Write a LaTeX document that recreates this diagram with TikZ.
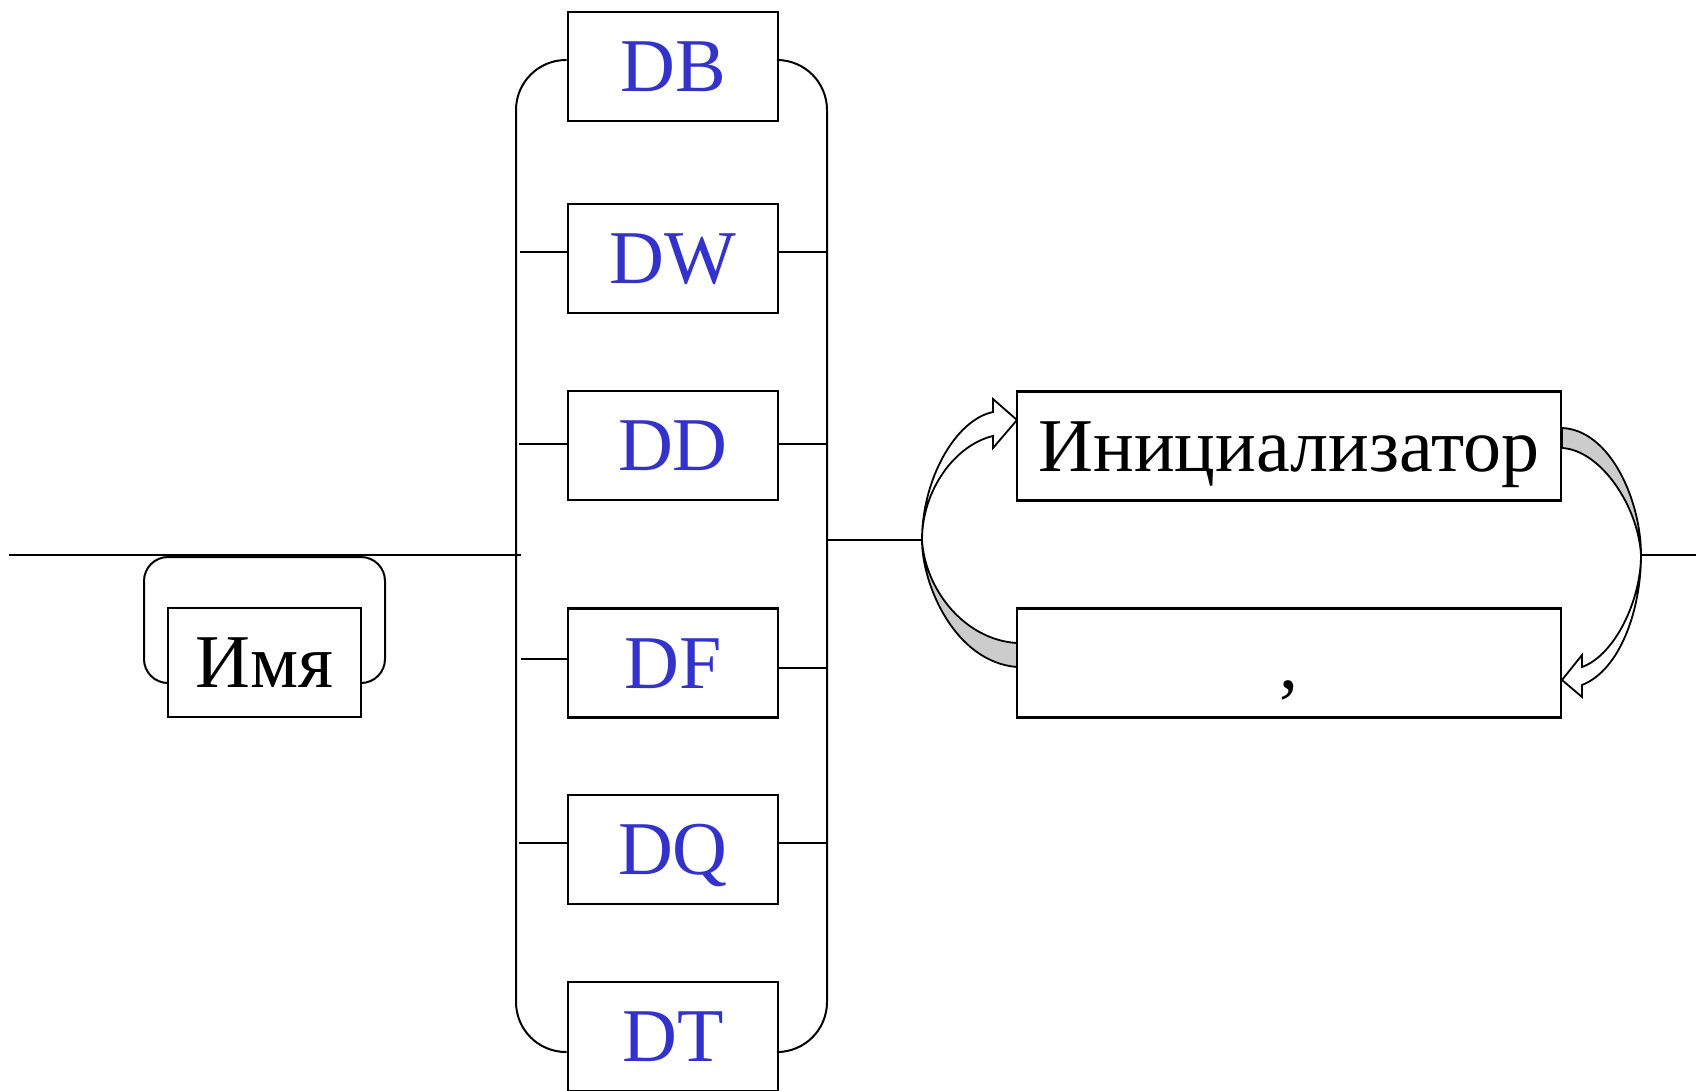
\documentclass[tikz,border=0pt]{standalone}
\usepackage{fontspec}
\setmainfont{Liberation Serif}
\definecolor{kw}{RGB}{51,51,204}
\definecolor{band}{RGB}{204,204,204}
\begin{document}
\begin{tikzpicture}[x=1pt,y=-1pt,
  ln/.style={line width=2pt},
  box/.style={draw, line width=2.6pt, inner sep=0pt, minimum height=109pt,
    text height=50pt, text depth=0pt, font=\fontsize{76}{80}\selectfont},
  kwbox/.style={box, minimum width=210pt, text=kw},
  arr/.style={line width=1.8pt, line join=miter}]
\useasboundingbox (0,0) rectangle (1696,1090);
\clip (0,0) rectangle (1696,1090);

% input line and optional name
\coordinate (start) at (9,555);
\coordinate (busL) at (521,555);
\draw[ln] (start) -- (busL);
\node[box, minimum width=193pt] (nm) at (264.5,662.5) {Имя};
\draw[ln, rounded corners=24pt] (nm.west |- 0,683) -- (144,683) -- (144,557) -- (385,557) -- (385,683) -- (nm.east |- 0,683);

% keyword boxes
\node[kwbox] (db) at (673,66.5) {DB};
\node[kwbox] (dw) at (673,258.5) {DW};
\node[kwbox] (dd) at (673,445.5) {DD};
\node[kwbox] (df) at (673,663) {DF};
\node[kwbox] (dq) at (673,849.5) {DQ};
\node[kwbox] (dt) at (673,1036.5) {DT};

% buses
\draw[ln, rounded corners=50pt] (db.west |- 0,60) -- (516,60) -- (516,1052) -- (dt.west |- 0,1052);
\draw[ln, rounded corners=50pt] (db.east |- 0,60) -- (827,60) -- (827,1052) -- (dt.east |- 0,1052);
\draw[ln] (520,252) -- (dw.west |- 0,252);
\draw[ln] (dw.east |- 0,252) -- (827,252);
\draw[ln] (519,444) -- (dd.west |- 0,444);
\draw[ln] (dd.east |- 0,444) -- (827,444);
\draw[ln] (521,659) -- (df.west |- 0,659);
\draw[ln] (df.east |- 0,668) -- (827,668);
\draw[ln] (519,843) -- (dq.west |- 0,843);
\draw[ln] (dq.east |- 0,843) -- (827,843);

% loop
\coordinate (lp) at (922,540);
\coordinate (rp) at (1641,555);
\coordinate (endp) at (1696,555);
\draw[ln] (827,540) -- (lp);
\draw[ln] (rp) -- (endp);

\draw[arr, fill=band] (lp) .. controls (922,585) and (955,662) .. (1017,667) -- (1017,643) .. controls (965,640) and (925,590) .. (lp) -- cycle;
\draw[arr, fill=white] (lp) .. controls (922,480) and (955,420) .. (993,412) -- (993,399) -- (1017,420) -- (993,448) -- (993,436) .. controls (955,445) and (922,490) .. (lp) -- cycle;
\draw[arr, fill=band] (1562,428) .. controls (1610,430) and (1641,500) .. (rp) .. controls (1638,505) and (1600,450) .. (1562,448) -- cycle;
\draw[arr, fill=white] (rp) .. controls (1641,610) and (1620,670) .. (1582,685) -- (1582,697) -- (1562,680) -- (1582,655) -- (1582,667) .. controls (1615,655) and (1641,600) .. (rp) -- cycle;

\node[box, minimum width=544pt, fill=white] (init) at (1289,446) {Инициализатор};
\node[box, minimum width=544pt] (comma) at (1289,663) {,};
\end{tikzpicture}
\end{document}
